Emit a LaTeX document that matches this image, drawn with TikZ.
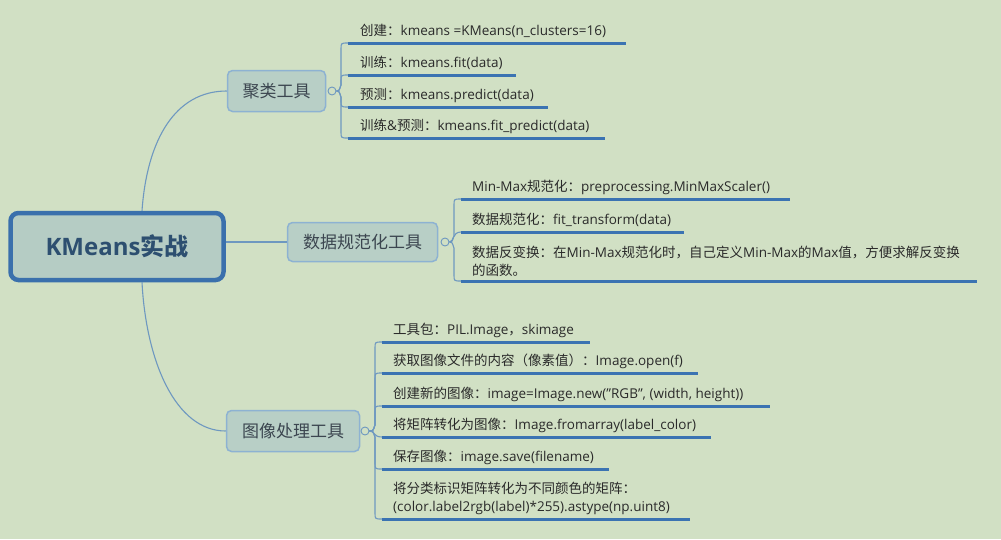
\documentclass[tikz,border=0pt]{standalone}
\usepackage{fontspec}
\setmainfont{Open Sans}
\newfontfamily\cjk{Noto Sans CJK SC}
\newcommand{\zh}[1]{{\cjk #1}}
\definecolor{bgc}{HTML}{D1E0C4}
\definecolor{boxfill}{HTML}{B8CFC6}
\definecolor{boxdraw}{HTML}{8DB2D2}
\definecolor{mainfill}{HTML}{B5CCC4}
\definecolor{maindraw}{HTML}{3A70AC}
\definecolor{linec}{HTML}{6E98C0}
\definecolor{ulc}{HTML}{3B73B2}
\definecolor{maintext}{HTML}{2D4F70}
\definecolor{subtext}{HTML}{3C4650}
\definecolor{leaftext}{HTML}{2A2A2A}
\tikzset{
  mainbox/.style={draw=maindraw, line width=4.5pt, fill=mainfill, rounded corners=8pt,
    minimum width=213pt, minimum height=67pt, inner sep=0pt,
    text=maintext, font=\bfseries\fontsize{24}{28}\selectfont},
  subbox/.style={draw=boxdraw, line width=1.5pt, fill=boxfill, rounded corners=5pt,
    inner sep=0pt, text=subtext, font=\cjk\fontsize{17}{20}\selectfont},
  leaf/.style={anchor=base west, inner sep=0pt, text=leaftext, font=\fontsize{13.5}{17.5}\selectfont},
  leafml/.style={anchor=south west, inner sep=0pt, align=left, text=leaftext, font=\fontsize{13.5}{17.5}\selectfont},
  conn/.style={draw=linec, line width=1.1pt},
  uline/.style={draw=ulc, line width=3pt},
  dot/.style={circle, draw=linec, fill=bgc, line width=0.9pt, inner sep=0pt, minimum size=8pt},
}
\begin{document}
\begin{tikzpicture}[x=1pt,y=-1pt]
\fill[bgc] (0,0) rectangle (1001,539);
\useasboundingbox (0,0) rectangle (1001,539);

% main and subtopics
\node[mainbox] (main) at (117,246.5) {KMeans\zh{实战}};
\node[subbox, minimum width=98pt, minimum height=41pt] (k) at (276.5,91) {聚类工具};
\node[subbox, minimum width=150pt, minimum height=39pt] (d) at (362.5,242) {数据规范化工具};
\node[subbox, minimum width=133pt, minimum height=41pt] (m) at (293,431) {图像处理工具};

% main connectors
\draw[conn] ([xshift=25pt]main.north) .. controls (147,140) and (175,91) .. (k.west);
\draw[conn] (d.west -| main.east) -- (d.west);
\draw[conn] ([xshift=25pt]main.south) .. controls (146,360) and (175,431) .. (m.west);

% circles
\node[dot] (ck) at (332,91) {};
\node[dot] (cd) at (445,242) {};
\node[dot] (cm) at (365,431) {};

% ---------- 聚类工具 leaves
\coordinate (ks1) at (348,43);  \coordinate (ke1) at (626,43);
\coordinate (ks2) at (348,75);  \coordinate (ke2) at (516,75);
\coordinate (ks3) at (348,107); \coordinate (ke3) at (548,107);
\coordinate (ks4) at (348,138); \coordinate (ke4) at (605,138);
\draw[conn] (ck.east) .. controls (339,91) .. (341,85) -- (341,49) .. controls (341,43) .. (ks1);
\draw[conn] (ck.east) .. controls (339,91) .. (341,85) -- (341,81) .. controls (341,75) .. (ks2);
\draw[conn] (ck.east) .. controls (339,91) .. (341,97) -- (341,101) .. controls (341,107) .. (ks3);
\draw[conn] (ck.east) .. controls (339,91) .. (341,97) -- (341,132) .. controls (341,138) .. (ks4);
\draw[uline] (ks1) -- (ke1);
\draw[uline] (ks2) -- (ke2);
\draw[uline] (ks3) -- (ke3);
\draw[uline] (ks4) -- (ke4);
\node[leaf] (k1) at (360,35) {\zh{创建：}kmeans =KMeans(n\_clusters=16)};
\node[leaf] (k2) at (360,67) {\zh{训练：}kmeans.fit(data)};
\node[leaf] (k3) at (360,99) {\zh{预测：}kmeans.predict(data)};
\node[leaf] (k4) at (360,130) {\zh{训练}\&\zh{预测：}kmeans.fit\_predict(data)};

% ---------- 数据规范化工具 leaves
\coordinate (ds1) at (461,199); \coordinate (de1) at (790,199);
\coordinate (ds2) at (461,232); \coordinate (de2) at (684,232);
\coordinate (ds3) at (461,281); \coordinate (de3) at (977,281);
\draw[conn] (cd.east) .. controls (452,242) .. (454,236) -- (454,205) .. controls (454,199) .. (ds1);
\draw[conn] (cd.east) .. controls (454,242) and (452,232) .. (ds2);
\draw[conn] (cd.east) .. controls (452,242) .. (454,248) -- (454,275) .. controls (454,281) .. (ds3);
\draw[uline] (ds1) -- (de1);
\draw[uline] (ds2) -- (de2);
\draw[uline] (ds3) -- (de3);
\node[leaf] (d1) at (472,191) {Min-Max\zh{规范化：}preprocessing.MinMaxScaler()};
\node[leaf] (d2) at (472,224) {\zh{数据规范化：}fit\_transform(data)};
\node[leafml] (d3) at (472,276.5) {\zh{数据反变换：在}Min-Max\zh{规范化时，自己定义}Min-Max\zh{的}Max\zh{值，方便求解反变换}\\\zh{的函数。}};

% ---------- 图像处理工具 leaves
\coordinate (ms1) at (382,342); \coordinate (me1) at (590,342);
\coordinate (ms2) at (382,373); \coordinate (me2) at (698,373);
\coordinate (ms3) at (382,406); \coordinate (me3) at (770,406);
\coordinate (ms4) at (382,437); \coordinate (me4) at (711,437);
\coordinate (ms5) at (382,469); \coordinate (me5) at (609,469);
\coordinate (ms6) at (382,519); \coordinate (me6) at (690,519);
\draw[conn] (cm.east) .. controls (373,431) .. (375,425) -- (375,348) .. controls (375,342) .. (ms1);
\draw[conn] (cm.east) .. controls (373,431) .. (375,425) -- (375,379) .. controls (375,373) .. (ms2);
\draw[conn] (cm.east) .. controls (373,431) .. (375,425) -- (375,412) .. controls (375,406) .. (ms3);
\draw[conn] (cm.east) .. controls (375,431) and (373,437) .. (ms4);
\draw[conn] (cm.east) .. controls (373,431) .. (375,437) -- (375,463) .. controls (375,469) .. (ms5);
\draw[conn] (cm.east) .. controls (373,431) .. (375,437) -- (375,513) .. controls (375,519) .. (ms6);
\draw[uline] (ms1) -- (me1);
\draw[uline] (ms2) -- (me2);
\draw[uline] (ms3) -- (me3);
\draw[uline] (ms4) -- (me4);
\draw[uline] (ms5) -- (me5);
\draw[uline] (ms6) -- (me6);
\node[leaf] (m1) at (393,334) {\zh{工具包：}PIL.Image\zh{，}skimage};
\node[leaf] (m2) at (393,365) {\zh{获取图像文件的内容（像素值）：}Image.open(f)};
\node[leaf] (m3) at (393,398) {\zh{创建新的图像：}image=Image.new("RGB", (width, height))};
\node[leaf] (m4) at (393,429) {\zh{将矩阵转化为图像：}Image.fromarray(label\_color)};
\node[leaf] (m5) at (393,461) {\zh{保存图像：}image.save(filename)};
\node[leafml] (m6) at (393,514.5) {\zh{将分类标识矩阵转化为不同颜色的矩阵：}\\(color.label2rgb(label)*255).astype(np.uint8)};
\end{tikzpicture}
\end{document}
